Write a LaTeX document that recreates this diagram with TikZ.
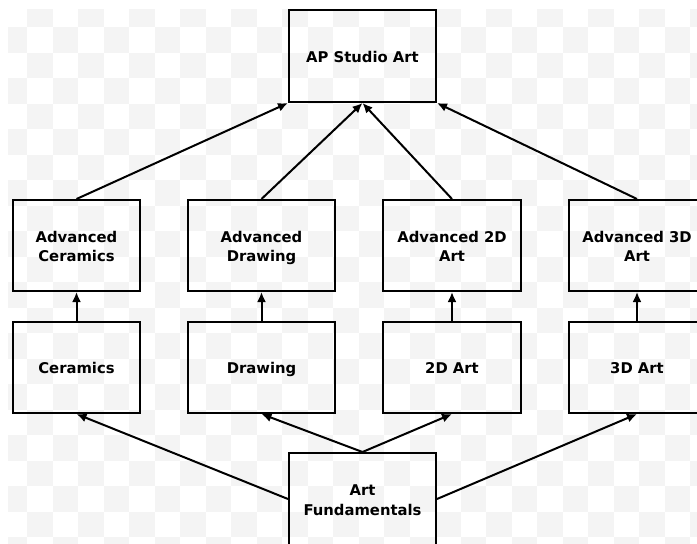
\documentclass[tikz,border=0pt]{standalone}
\usepackage{fontspec}
\setmainfont{DejaVu Sans}
\usepackage{xcolor}
\usetikzlibrary{arrows.meta}
\definecolor{checkgray}{HTML}{F4F4F4}
\newcommand{\boxstrut}{\rule[-4pt]{0pt}{20.4pt}}
\newcommand{\linelift}{\rule{0pt}{16.8pt}}

\begin{document}
\begin{tikzpicture}[x=1pt, y=-1pt, >={Latex[length=10pt,width=9pt]},
		box/.style={draw, line width=2pt, align=center, inner sep=0pt,
			font=\bfseries\fontsize{14.8}{19.5}\selectfont,
			execute at end node={\boxstrut}},
		link/.style={->, line width=2pt}]
		\useasboundingbox (0,0) rectangle (697,544);
		% see-through background
		\begin{scope}
			\clip (8,9) rectangle (697,544);
			\foreach \i in {0, ..., 27} {
				\foreach \j in {0, ..., 21} {
					\pgfmathtruncatemacro{\chk}{mod(\i+\j,2)}
					\ifnum\chk=1
						\fill[checkgray] (1.5+25.5*\i, 1.5+25.5*\j) rectangle +(25.5,25.5);
					\fi
				}
			}
		\end{scope}

		\node[box, minimum width=147, minimum height=92] (studio) at (362.5, 56) {AP Studio Art};

		\node[box, minimum width=127, minimum height=91] (advcer) at (76.5, 245.5) {\linelift Advanced\\Ceramics};
		\node[box, minimum width=147, minimum height=91] (advdraw) at (261.5, 245.5) {\linelift Advanced\\Drawing};
		\node[box, minimum width=138, minimum height=91] (adv2d) at (452, 245.5) {\linelift Advanced 2D\\Art};
		\node[box, minimum width=136, minimum height=91] (adv3d) at (637, 245.5) {\linelift Advanced 3D\\Art};

		\node[box, minimum width=127, minimum height=91] (cer) at (76.5, 367.5) {Ceramics};
		\node[box, minimum width=147, minimum height=91] (drw) at (261.5, 367.5) {Drawing};
		\node[box, minimum width=138, minimum height=91] (art2d) at (452, 367.5) {2D Art};
		\node[box, minimum width=136, minimum height=91] (art3d) at (637, 367.5) {3D Art};

		\node[box, minimum width=147, minimum height=92] (fund) at (362.5, 499) {\linelift Art\\Fundamentals};

		\draw[link] (advcer.north) -- (studio.south west);
		\draw[link] (advdraw.north) -- (studio.south);
		\draw[link] (adv2d.north) -- (studio.south);
		\draw[link] (adv3d.north) -- (studio.south east);

		\draw[link] (cer) -- (advcer);
		\draw[link] (drw) -- (advdraw);
		\draw[link] (art2d) -- (adv2d);
		\draw[link] (art3d) -- (adv3d);

		\draw[link] (fund.west) -- (cer.south);
		\draw[link] (fund.north) -- (drw.south);
		\draw[link] (fund.north) -- (art2d.south);
		\draw[link] (fund.east) -- (art3d.south);
	\end{tikzpicture}
\end{document}
